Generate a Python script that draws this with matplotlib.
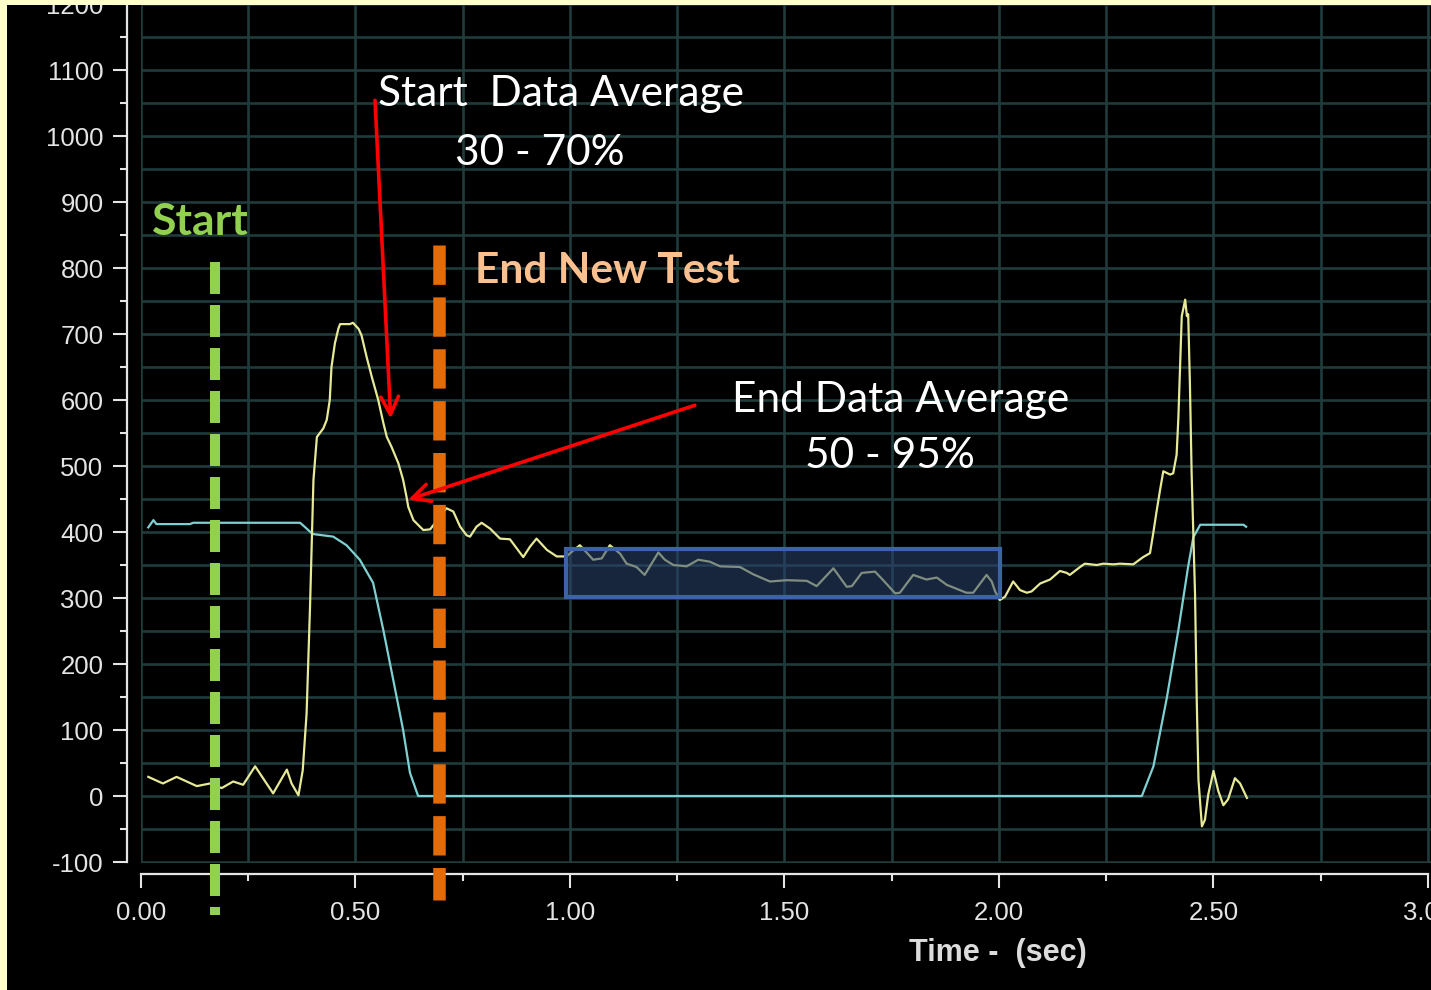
import matplotlib
matplotlib.use("Agg")
import matplotlib.pyplot as plt
from matplotlib.patches import Rectangle
from matplotlib.ticker import MultipleLocator, FormatStrFormatter

plt.rcParams["axes.unicode_minus"] = False

# force trace (yellow)
force_t = [0.017, 0.051, 0.083, 0.13, 0.161, 0.188, 0.215, 0.238, 0.266, 0.308,
           0.34, 0.351, 0.367, 0.377, 0.386, 0.394, 0.402, 0.41, 0.425, 0.433,
           0.44, 0.444, 0.452, 0.46, 0.464, 0.487, 0.494, 0.507, 0.514, 0.526,
           0.538, 0.553, 0.565, 0.573, 0.584, 0.60, 0.611, 0.619, 0.623, 0.635,
           0.658, 0.674, 0.712, 0.728, 0.744, 0.759, 0.767, 0.782, 0.794, 0.814,
           0.837, 0.86, 0.891, 0.907, 0.922, 0.946, 0.969, 0.992, 1.004, 1.023,
           1.054, 1.074, 1.093, 1.117, 1.132, 1.155, 1.174, 1.206, 1.221, 1.241,
           1.272, 1.299, 1.326, 1.35, 1.396, 1.427, 1.466, 1.505, 1.552, 1.575,
           1.614, 1.645, 1.657, 1.68, 1.711, 1.73, 1.758, 1.769, 1.80, 1.831,
           1.855, 1.878, 1.924, 1.94, 1.971, 1.983, 1.991, 2.002, 2.014, 2.033,
           2.049, 2.065, 2.076, 2.096, 2.119, 2.142, 2.158, 2.165, 2.189, 2.2,
           2.228, 2.243, 2.267, 2.282, 2.313, 2.336, 2.352, 2.36, 2.367, 2.375,
           2.383, 2.399, 2.406, 2.414, 2.418, 2.422, 2.426, 2.434, 2.438, 2.441,
           2.445, 2.449, 2.457, 2.461, 2.465, 2.473, 2.480, 2.488, 2.5, 2.511,
           2.523, 2.534, 2.550, 2.562, 2.578]
force_v = [29, 19, 29, 15, 19, 12, 22, 17, 45, 4,
           40, 19, 1, 39, 125, 287, 479, 544, 557, 570,
           600, 650, 686, 708, 715, 715, 717, 708, 698, 665,
           635, 600, 565, 544, 529, 504, 479, 453, 438, 418,
           403, 404, 436, 431, 408, 395, 393, 408, 414, 405,
           390, 389, 362, 378, 390, 373, 363, 363, 370, 380,
           358, 360, 380, 367, 352, 347, 335, 369, 358, 350,
           348, 358, 355, 348, 347, 336, 325, 327, 326, 318,
           345, 317, 318, 338, 340, 327, 307, 308, 335, 328,
           331, 320, 308, 308, 335, 325, 310, 297, 302, 325,
           312, 308, 310, 322, 328, 341, 338, 335, 347, 352,
           350, 352, 351, 352, 351, 362, 368, 400, 430, 462,
           492, 487, 489, 517, 571, 647, 727, 752, 727, 730,
           625, 489, 305, 143, 24, -46, -36, 3, 38, 8,
           -14, -5, 27, 19, -3]

# position trace (cyan)
pos_t = [0.017, 0.029, 0.036, 0.114, 0.122, 0.371, 0.40, 0.448, 0.479, 0.51,
         0.541, 0.565, 0.588, 0.611, 0.627, 0.646, 2.333, 2.36, 2.391, 2.418,
         2.441, 2.453, 2.469, 2.57, 2.576]
pos_v = [407, 418, 412, 412, 414, 414, 397, 393, 380, 358,
         323, 251, 176, 100, 35, 0, 0, 45, 148, 251,
         348, 392, 411, 411, 408]

start_t = 0.172
end_t = 0.695
avg_box = (0.99, 2.002, 301, 374)

W, H = 1431, 990
fig = plt.figure(figsize=(W / 100, H / 100), dpi=100, facecolor="black")
ax = fig.add_axes([141 / W, (H - 863) / H, (W - 141) / W, (863 - 4) / H])
ax.set_facecolor("black")
ax.set_xlim(0, 3.007)
ax.set_ylim(-101.5, 1200)

grey = "#e4e4e4"

# grid
ax.xaxis.set_major_locator(MultipleLocator(0.5))
ax.xaxis.set_minor_locator(MultipleLocator(0.25))
ax.yaxis.set_major_locator(MultipleLocator(100))
ax.yaxis.set_minor_locator(MultipleLocator(50))
ax.grid(which="both", color="#1f3b3b", lw=1.9)
ax.set_axisbelow(True)

for s in ["top", "right"]:
    ax.spines[s].set_visible(False)
ax.spines["left"].set_position(("outward", 10))
ax.spines["bottom"].set_position(("outward", 8))
ax.spines["left"].set_bounds(-100, 1200)
ax.spines["bottom"].set_bounds(0, 3.0)
for s in ["left", "bottom"]:
    ax.spines[s].set_color(grey)
    ax.spines[s].set_linewidth(1.6)

ax.tick_params(which="major", length=10, width=1.5, color=grey, labelcolor=grey)
ax.tick_params(which="minor", length=5, width=1.5, color=grey)
ax.tick_params(axis="y", pad=7)
ax.tick_params(axis="x", pad=9)
ax.xaxis.set_major_formatter(FormatStrFormatter("%.2f"))
for lab in ax.get_xticklabels() + ax.get_yticklabels():
    lab.set_fontfamily("Liberation Sans")
    lab.set_fontsize(18.5)

ax.set_xlabel("Time -  (sec)", color="#dcdcdc", fontfamily="Liberation Sans",
              fontsize=22, fontweight="bold", va="center")
ax.xaxis.set_label_coords((998 - 141) / (W - 141), -(953 - 863) / 859)

# traces
ax.plot(pos_t, pos_v, color="#7fd0d2", lw=1.6, zorder=3)
ax.plot(force_t, force_v, color="#e6e996", lw=1.6, zorder=4)

# averaging window
x0, x1, y0, y1 = avg_box
ax.add_patch(Rectangle((x0, y0), x1 - x0, y1 - y0, facecolor="#2a4470",
                       alpha=0.55, edgecolor="none", zorder=5))
ax.add_patch(Rectangle((x0, y0), x1 - x0, y1 - y0, facecolor="none",
                       edgecolor="#3c63a5", lw=3, zorder=6))

# start / end markers
ax.plot([start_t, start_t], [809, -180], color="#92d050", lw=7.2,
        ls=(0, (3.2, 1.1)), clip_on=False, zorder=7)
ax.plot([end_t, end_t], [835, -158], color="#e36c0a", lw=9,
        ls=(0, (3.15, 1.0)), clip_on=False, zorder=7)

ax.text(0.026, 850, "Start", color="#92d050", fontfamily="Lato",
        fontweight="bold", fontsize=32, va="baseline", zorder=8)
ax.text(0.778, 777, "End New Test", color="#fac090", fontfamily="Lato",
        fontweight="bold", fontsize=30.5, va="baseline", zorder=8)

ax.text(0.552, 1045, "Start  Data Average", color="white", fontfamily="Lato",
        fontsize=30.5, va="baseline", zorder=8)
ax.text(0.930, 956, "30 - 70%", color="white", fontfamily="Lato",
        fontsize=30.5, ha="center", va="baseline", zorder=8)
ax.text(1.378, 582, "End Data Average", color="white", fontfamily="Lato",
        fontsize=30.5, va="baseline", zorder=8)
ax.text(1.746, 497, "50 - 95%", color="white", fontfamily="Lato",
        fontsize=30.5, ha="center", va="baseline", zorder=8)

# arrows
arrow = dict(arrowstyle="->", color="#ff0000", lw=2.6, mutation_scale=32,
             shrinkA=0, shrinkB=0)
ax.annotate("", xy=(0.582, 572), xytext=(0.5455, 1054), arrowprops=arrow, zorder=9)
ax.annotate("", xy=(0.623, 449), xytext=(1.291, 592), arrowprops=arrow, zorder=9)

# pale yellow slide border
fig.add_artist(Rectangle((0, 0), 7 / W, 1, transform=fig.transFigure,
                         facecolor="#ffffcc", edgecolor="none", zorder=20))
fig.add_artist(Rectangle((0, 1 - 5 / H), 1, 5 / H, transform=fig.transFigure,
                         facecolor="#ffffcc", edgecolor="none", zorder=20))

fig.savefig("out.png", dpi=100, facecolor="black")
